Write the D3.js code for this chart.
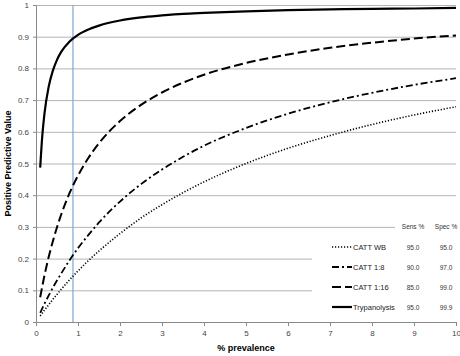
<!DOCTYPE html>
<html>
<head>
<meta charset="utf-8">
<script src="https://cdn.jsdelivr.net/npm/d3@7"></script>
<style>
  body { margin: 0; background: #fff; }
  text { font-family: "Liberation Sans", Arial, sans-serif; }
</style>
</head>
<body>
<div id="chart"></div>
<script>
// % prevalence at which each curve was read
var prevalence = [0.1, 0.15, 0.2, 0.3, 0.4, 0.5, 0.6, 0.8, 1, 1.25, 1.5, 2, 2.5, 3, 3.5, 4, 5, 6, 7, 8, 9, 10];

var cattWB   = [0.019, 0.028, 0.037, 0.054, 0.071, 0.087, 0.103, 0.133, 0.161, 0.194, 0.224, 0.279, 0.328, 0.370, 0.408, 0.442, 0.500, 0.548, 0.588, 0.623, 0.653, 0.679];
var catt18   = [0.029, 0.043, 0.057, 0.083, 0.108, 0.131, 0.153, 0.195, 0.233, 0.275, 0.314, 0.380, 0.435, 0.481, 0.521, 0.556, 0.612, 0.657, 0.693, 0.723, 0.748, 0.769];
var catt116  = [0.078, 0.113, 0.146, 0.204, 0.254, 0.299, 0.339, 0.407, 0.462, 0.518, 0.564, 0.634, 0.685, 0.724, 0.755, 0.780, 0.817, 0.844, 0.865, 0.881, 0.894, 0.904];
var trypano  = [0.487, 0.588, 0.656, 0.741, 0.792, 0.827, 0.852, 0.885, 0.906, 0.923, 0.935, 0.951, 0.961, 0.967, 0.972, 0.975, 0.980, 0.984, 0.986, 0.988, 0.989, 0.991];

var seriesNames = ['CATT WB', 'CATT 1:8', 'CATT 1:16', 'Trypanolysis'];
var sensValues = ['95.0', '90.0', '85.0', '95.0'];
var specValues = ['95.0', '97.0', '99.0', '99.9'];

var markerPrevalence = 0.88;   // the blue vertical line

var xTicks = [0, 1, 2, 3, 4, 5, 6, 7, 8, 9, 10];
var yTicks = [0, 0.1, 0.2, 0.3, 0.4, 0.5, 0.6, 0.7, 0.8, 0.9, 1];

var width = 460, height = 356;
var margin = { top: 5, right: 4, bottom: 34, left: 36 };
var w = width - margin.left - margin.right,
    h = height - margin.top - margin.bottom;

var svg = d3.select("#chart")
    .append("svg")
    .attr("width", width)
    .attr("height", height);

var g = svg.append("g")
    .attr("transform", "translate(" + margin.left + "," + margin.top + ")");

var x = d3.scaleLinear().domain([0, 10]).range([0, w]);
var y = d3.scaleLinear().domain([0, 1]).range([h, 0]);

// horizontal gridlines
g.append("g")
    .attr("class", "grid")
    .call(d3.axisLeft(y).tickValues(yTicks.slice(1)).tickSize(-w).tickFormat(""))
    .call(function(s) {
        s.select(".domain").remove();
        s.selectAll("line").attr("stroke", "#b4b4b4").attr("stroke-width", 1);
    });

// blue marker line
g.append("line")
    .attr("x1", x(markerPrevalence)).attr("x2", x(markerPrevalence))
    .attr("y1", y(1)).attr("y2", y(0))
    .attr("stroke", "#7ea6d3")
    .attr("stroke-width", 1.2);

// x axis
g.append("g")
    .attr("transform", "translate(0," + h + ")")
    .call(d3.axisBottom(x).tickValues(xTicks).tickSize(4).tickPadding(4).tickFormat(d3.format("d")))
    .call(function(s) {
        s.select(".domain").attr("stroke", "#8a8a8a");
        s.selectAll("line").attr("stroke", "#8a8a8a");
        s.selectAll("text").attr("fill", "#444").style("font-size", "8px");
    });

// y axis
g.append("g")
    .call(d3.axisLeft(y).tickValues(yTicks).tickSize(3).tickPadding(4).tickFormat(function(d) { return d === 0 || d === 1 ? d : d.toFixed(1); }))
    .call(function(s) {
        s.select(".domain").attr("stroke", "#8a8a8a");
        s.selectAll("line").attr("stroke", "#8a8a8a");
        s.selectAll("text").attr("fill", "#444").style("font-size", "8px");
    });

// curves
var styles = [
    { data: cattWB,  dash: "1.2,1.8", width: 1.6, cap: "butt" },
    { data: catt18,  dash: "7,3,2,3", width: 1.8, cap: "butt" },
    { data: catt116, dash: "9,4", width: 2, cap: "butt" },
    { data: trypano, dash: null, width: 2.2, cap: "butt" }
];

var line = d3.line()
    .x(function(d) { return x(d[0]); })
    .y(function(d) { return y(d[1]); })
    .curve(d3.curveMonotoneX);

styles.forEach(function(s) {
    var pts = prevalence.map(function(p, i) { return [p, s.data[i]]; });
    g.append("path")
        .datum(pts)
        .attr("d", line)
        .attr("fill", "none")
        .attr("stroke", "black")
        .attr("stroke-width", s.width)
        .attr("stroke-dasharray", s.dash)
        .attr("stroke-linecap", s.cap);
});

// legend (white table covering part of the grid)
svg.append("rect")
    .attr("x", 312).attr("y", 237).attr("width", 145).attr("height", 84)
    .attr("fill", "white");
svg.append("rect")
    .attr("x", 395).attr("y", 216).attr("width", 62).attr("height", 22)
    .attr("fill", "white");

svg.append("text").attr("x", 413).attr("y", 229).attr("text-anchor", "middle")
    .style("font-size", "6.5px").attr("fill", "#333").text("Sens %");
svg.append("text").attr("x", 446).attr("y", 229).attr("text-anchor", "middle")
    .style("font-size", "6.5px").attr("fill", "#333").text("Spec %");

var rowY = [247, 267, 287, 307];
styles.forEach(function(s, i) {
    svg.append("line")
        .attr("x1", 332).attr("x2", 352)
        .attr("y1", rowY[i]).attr("y2", rowY[i])
        .attr("stroke", "black")
        .attr("stroke-width", s.width)
        .attr("stroke-dasharray", s.dash);
    svg.append("text").attr("x", 353).attr("y", rowY[i] + 3)
        .style("font-size", "7.5px").attr("fill", "#222").text(seriesNames[i]);
    svg.append("text").attr("x", 413).attr("y", rowY[i] + 3).attr("text-anchor", "middle")
        .style("font-size", "6.5px").attr("fill", "#333").text(sensValues[i]);
    svg.append("text").attr("x", 446).attr("y", rowY[i] + 3).attr("text-anchor", "middle")
        .style("font-size", "6.5px").attr("fill", "#333").text(specValues[i]);
});

// axis titles
svg.append("text")
    .attr("x", margin.left + w / 2).attr("y", 351)
    .attr("text-anchor", "middle")
    .style("font-size", "9px").style("font-weight", "bold")
    .text("% prevalence");

svg.append("text")
    .attr("transform", "translate(11," + (margin.top + h / 2) + ") rotate(-90)")
    .attr("text-anchor", "middle")
    .style("font-size", "9px").style("font-weight", "bold")
    .text("Positive Predictive Value");
</script>
</body>
</html>
